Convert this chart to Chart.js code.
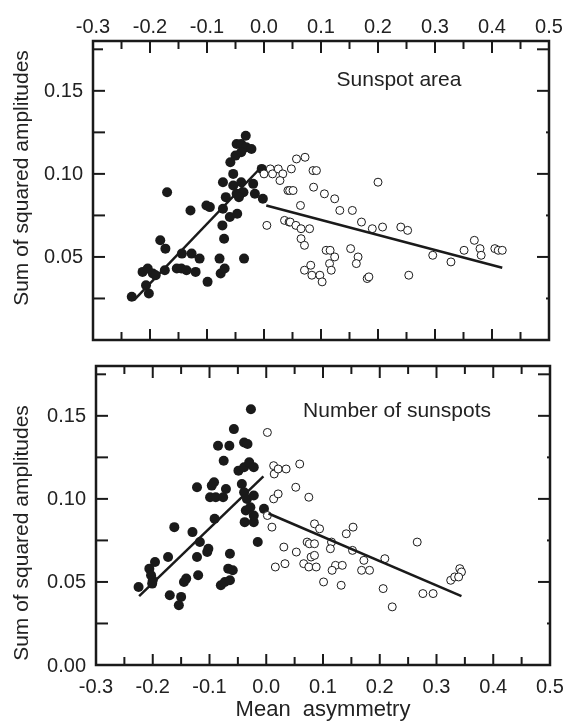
<!DOCTYPE html>
<html>
<head>
<meta charset="utf-8">
<script src="https://cdn.jsdelivr.net/npm/chart.js@4.4.1/dist/chart.umd.min.js"></script>
<style>
body { margin: 0; background: #fff; }
#wrap { position: relative; width: 570px; height: 724px; }
canvas { position: absolute; left: 0; top: 0; }
</style>
</head>
<body>
<div id="wrap">
<canvas id="areaChart" width="570" height="724"></canvas>
<canvas id="countChart" width="570" height="724"></canvas>
</div>
<script>
// axis ticks
const xTickValues = [-0.3, -0.2, -0.1, 0.0, 0.1, 0.2, 0.3, 0.4, 0.5]
const xTickLabels = ["-0.3", "-0.2", "-0.1", "0.0", "0.1", "0.2", "0.3", "0.4", "0.5"]
const yMarkValues = [0.025, 0.05, 0.075, 0.10, 0.125, 0.15, 0.175]
const areaYTickValues = [0.05, 0.10, 0.15]
const areaYTickLabels = ["0.05", "0.10", "0.15"]
const countYTickValues = [0.00, 0.05, 0.10, 0.15]
const countYTickLabels = ["0.00", "0.05", "0.10", "0.15"]

// sunspot area panel
const areaFilledX = [-0.232,-0.207,-0.202,-0.213,-0.204,-0.195,-0.190,-0.182,-0.173,-0.174,
  -0.170,-0.153,-0.145,-0.136,-0.144,-0.129,-0.127,-0.120,-0.113,-0.099,
  -0.101,-0.095,-0.078,-0.076,-0.069,-0.073,-0.072,-0.070,-0.072,-0.067,
  -0.060,-0.047,-0.054,-0.059,-0.050,-0.048,-0.040,-0.032,-0.031,-0.022,
  -0.040,-0.054,-0.040,-0.048,-0.036,-0.044,-0.019,-0.016,-0.002,-0.004,-0.035]
const areaFilledY = [0.026,0.033,0.028,0.041,0.043,0.040,0.039,0.060,0.055,0.042,
  0.089,0.043,0.043,0.042,0.052,0.078,0.052,0.041,0.049,0.035,
  0.081,0.080,0.049,0.040,0.043,0.069,0.079,0.061,0.095,0.086,
  0.074,0.076,0.100,0.107,0.111,0.118,0.118,0.123,0.116,0.115,
  0.113,0.093,0.095,0.088,0.089,0.086,0.094,0.088,0.085,0.103,0.049]
const areaOpenX = [0.000,0.011,0.015,0.025,0.033,0.028,0.042,0.005,0.036,0.044,
  0.048,0.057,0.072,0.086,0.092,0.045,0.051,0.087,0.106,0.124,
  0.133,0.064,0.155,0.200,0.171,0.190,0.208,0.240,0.252,0.046,
  0.056,0.065,0.080,0.065,0.071,0.109,0.116,0.124,0.115,0.118,
  0.071,0.082,0.084,0.098,0.102,0.152,0.165,0.162,0.181,0.184,
  0.254,0.296,0.328,0.351,0.369,0.379,0.381,0.405,0.411,0.418]
const areaOpenY = [0.100,0.103,0.100,0.103,0.100,0.096,0.090,0.069,0.072,0.071,
  0.103,0.109,0.110,0.102,0.102,0.090,0.090,0.092,0.088,0.085,
  0.078,0.081,0.078,0.095,0.071,0.067,0.068,0.068,0.066,0.071,
  0.069,0.067,0.067,0.061,0.057,0.054,0.054,0.050,0.046,0.042,
  0.042,0.045,0.039,0.039,0.035,0.055,0.050,0.046,0.037,0.038,
  0.039,0.051,0.047,0.054,0.060,0.055,0.051,0.055,0.054,0.054]
const areaFitLeftX = [-0.228, -0.005]
const areaFitLeftY = [0.024, 0.104]
const areaFitRightX = [0.004, 0.418]
const areaFitRightY = [0.081, 0.0435]

// number of sunspots panel
const countFilledX = [-0.225,-0.206,-0.203,-0.196,-0.200,-0.201,-0.173,-0.170,-0.150,-0.154,
  -0.162,-0.145,-0.141,-0.130,-0.117,-0.122,-0.120,-0.122,-0.104,-0.102,
  -0.096,-0.092,-0.099,-0.089,-0.076,-0.071,-0.091,-0.085,-0.065,-0.075,
  -0.064,-0.067,-0.059,-0.080,-0.073,-0.064,-0.057,-0.039,-0.033,-0.027,
  -0.049,-0.039,-0.030,-0.022,-0.043,-0.039,-0.034,-0.022,-0.036,-0.028,
  -0.038,-0.022,-0.022,-0.004,-0.015]
const countFilledY = [0.047,0.058,0.054,0.062,0.051,0.049,0.065,0.042,0.041,0.036,
  0.083,0.050,0.052,0.080,0.074,0.065,0.054,0.107,0.068,0.070,
  0.108,0.110,0.101,0.101,0.101,0.106,0.088,0.132,0.132,0.123,
  0.067,0.058,0.057,0.048,0.050,0.051,0.142,0.134,0.133,0.154,
  0.117,0.119,0.122,0.119,0.109,0.104,0.100,0.102,0.093,0.095,
  0.086,0.086,0.090,0.094,0.074]
const countOpenX = [0.002,0.013,0.014,0.021,0.035,0.013,0.021,0.002,0.010,0.031,
  0.016,0.033,0.059,0.052,0.075,0.053,0.066,0.075,0.072,0.076,
  0.085,0.079,0.085,0.088,0.085,0.094,0.101,0.115,0.113,0.122,
  0.116,0.134,0.132,0.141,0.153,0.152,0.172,0.168,0.182,0.209,
  0.206,0.222,0.266,0.276,0.294,0.325,0.332,0.341,0.344,0.339]
const countOpenY = [0.140,0.120,0.115,0.118,0.118,0.100,0.103,0.090,0.083,0.071,
  0.059,0.061,0.121,0.107,0.101,0.068,0.061,0.059,0.074,0.073,
  0.073,0.065,0.066,0.059,0.085,0.082,0.050,0.074,0.070,0.060,
  0.057,0.060,0.048,0.079,0.083,0.069,0.063,0.057,0.057,0.064,
  0.046,0.035,0.074,0.043,0.043,0.051,0.053,0.058,0.056,0.053]
const countFitLeftX = [-0.224, -0.005]
const countFitLeftY = [0.0415, 0.1136]
const countFitRightX = [0.004, 0.344]
const countFitRightY = [0.0912, 0.0415]

const INK = "#1a1a1a"
const TEXT = "#222"
const FONT = '"Liberation Sans", Arial, sans-serif'

function pts(xs, ys) {
    return xs.map((x, i) => ({ x: x, y: ys[i] }))
}

function fitLine(xs, ys) {
    return {
        data: pts(xs, ys), showLine: true, pointRadius: 0,
        borderColor: INK, borderWidth: 2.5, fill: false
    }
}

// frame with inward ticks, tick labels and titles
const frameAxes = {
    id: "frameAxes",
    afterDraw(chart, args, o) {
        const ctx = chart.ctx
        const a = chart.chartArea
        const x = chart.scales.x, y = chart.scales.y
        ctx.save()
        ctx.strokeStyle = INK
        ctx.lineWidth = 2
        function seg(x1, y1, x2, y2) {
            ctx.beginPath(); ctx.moveTo(x1, y1); ctx.lineTo(x2, y2); ctx.stroke()
        }
        xTickValues.forEach((v, i) => {
            const px = x.getPixelForValue(v)
            seg(px, a.top, px, a.top + 12)
            seg(px, a.bottom, px, a.bottom - 11)
            if (i < xTickValues.length - 1) {
                const mx = x.getPixelForValue((v + xTickValues[i + 1]) / 2)
                seg(mx, a.top, mx, a.top + 8)
                seg(mx, a.bottom, mx, a.bottom - 8)
            }
        })
        yMarkValues.forEach(v => {
            const py = y.getPixelForValue(v)
            const major = Math.round(v * 1000) % 50 === 0
            const top = v > 0.17
            seg(a.left, py, a.left + (top ? 10 : 12), py)
            seg(a.right, py, a.right - (major || top ? 12 : 3), py)
        })
        ctx.lineWidth = 2.5
        ctx.strokeRect(a.left, a.top, a.right - a.left, a.bottom - a.top)

        ctx.fillStyle = TEXT
        ctx.font = "20px " + FONT
        ctx.textAlign = "center"
        ctx.textBaseline = "alphabetic"
        xTickValues.forEach((v, i) => {
            const px = x.getPixelForValue(v)
            const ty = o.xLabelsTop ? a.top - 8 : a.bottom + 28
            ctx.fillText(xTickLabels[i], px, ty)
        })
        ctx.textAlign = "right"
        ctx.textBaseline = "middle"
        o.yValues.forEach((v, i) => {
            ctx.fillText(o.yLabels[i], a.left - 10, y.getPixelForValue(v) + 1)
        })

        ctx.font = "21px " + FONT
        ctx.textAlign = "center"
        ctx.textBaseline = "alphabetic"
        ctx.fillText(o.note, o.noteX, o.noteY)

        ctx.save()
        ctx.translate(28, o.yTitleCenter)
        ctx.rotate(-Math.PI / 2)
        ctx.fillText("Sum of squared amplitudes", 0, 0)
        ctx.restore()

        if (o.xTitle) {
            ctx.font = "22px " + FONT
            ctx.fillText(o.xTitle, (a.left + a.right) / 2, 716)
        }
        ctx.restore()
    }
}

function makeChart(id, filled, open, fitL, fitR, padding, frame) {
    return new Chart(document.getElementById(id), {
        type: "scatter",
        data: {
            datasets: [
                fitL,
                fitR,
                {
                    data: open, pointRadius: 4, pointHoverRadius: 4,
                    pointBackgroundColor: "#fff", pointBorderColor: INK, pointBorderWidth: 1
                },
                {
                    data: filled, pointRadius: 5, pointHoverRadius: 5,
                    pointBackgroundColor: INK, pointBorderColor: INK, pointBorderWidth: 0
                }
            ]
        },
        options: {
            responsive: false,
            animation: false,
            devicePixelRatio: 1,
            layout: { padding: padding },
            scales: {
                x: { type: "linear", min: -0.3, max: 0.5, display: false },
                y: { type: "linear", min: 0, max: 0.18, display: false }
            },
            plugins: {
                legend: { display: false },
                tooltip: { enabled: false },
                frameAxes: frame
            }
        },
        plugins: [frameAxes]
    })
}

makeChart("areaChart",
    pts(areaFilledX, areaFilledY), pts(areaOpenX, areaOpenY),
    fitLine(areaFitLeftX, areaFitLeftY), fitLine(areaFitRightX, areaFitRightY),
    { left: 93, right: 21, top: 41, bottom: 384 },
    { xLabelsTop: true, yValues: areaYTickValues, yLabels: areaYTickLabels,
      note: "Sunspot area", noteX: 399, noteY: 86, yTitleCenter: 178 })

makeChart("countChart",
    pts(countFilledX, countFilledY), pts(countOpenX, countOpenY),
    fitLine(countFitLeftX, countFitLeftY), fitLine(countFitRightX, countFitRightY),
    { left: 96, right: 20, top: 366, bottom: 59 },
    { xLabelsTop: false, yValues: countYTickValues, yLabels: countYTickLabels,
      note: "Number of sunspots", noteX: 397, noteY: 417, yTitleCenter: 533,
      xTitle: "Mean  asymmetry" })
</script>
</body>
</html>
